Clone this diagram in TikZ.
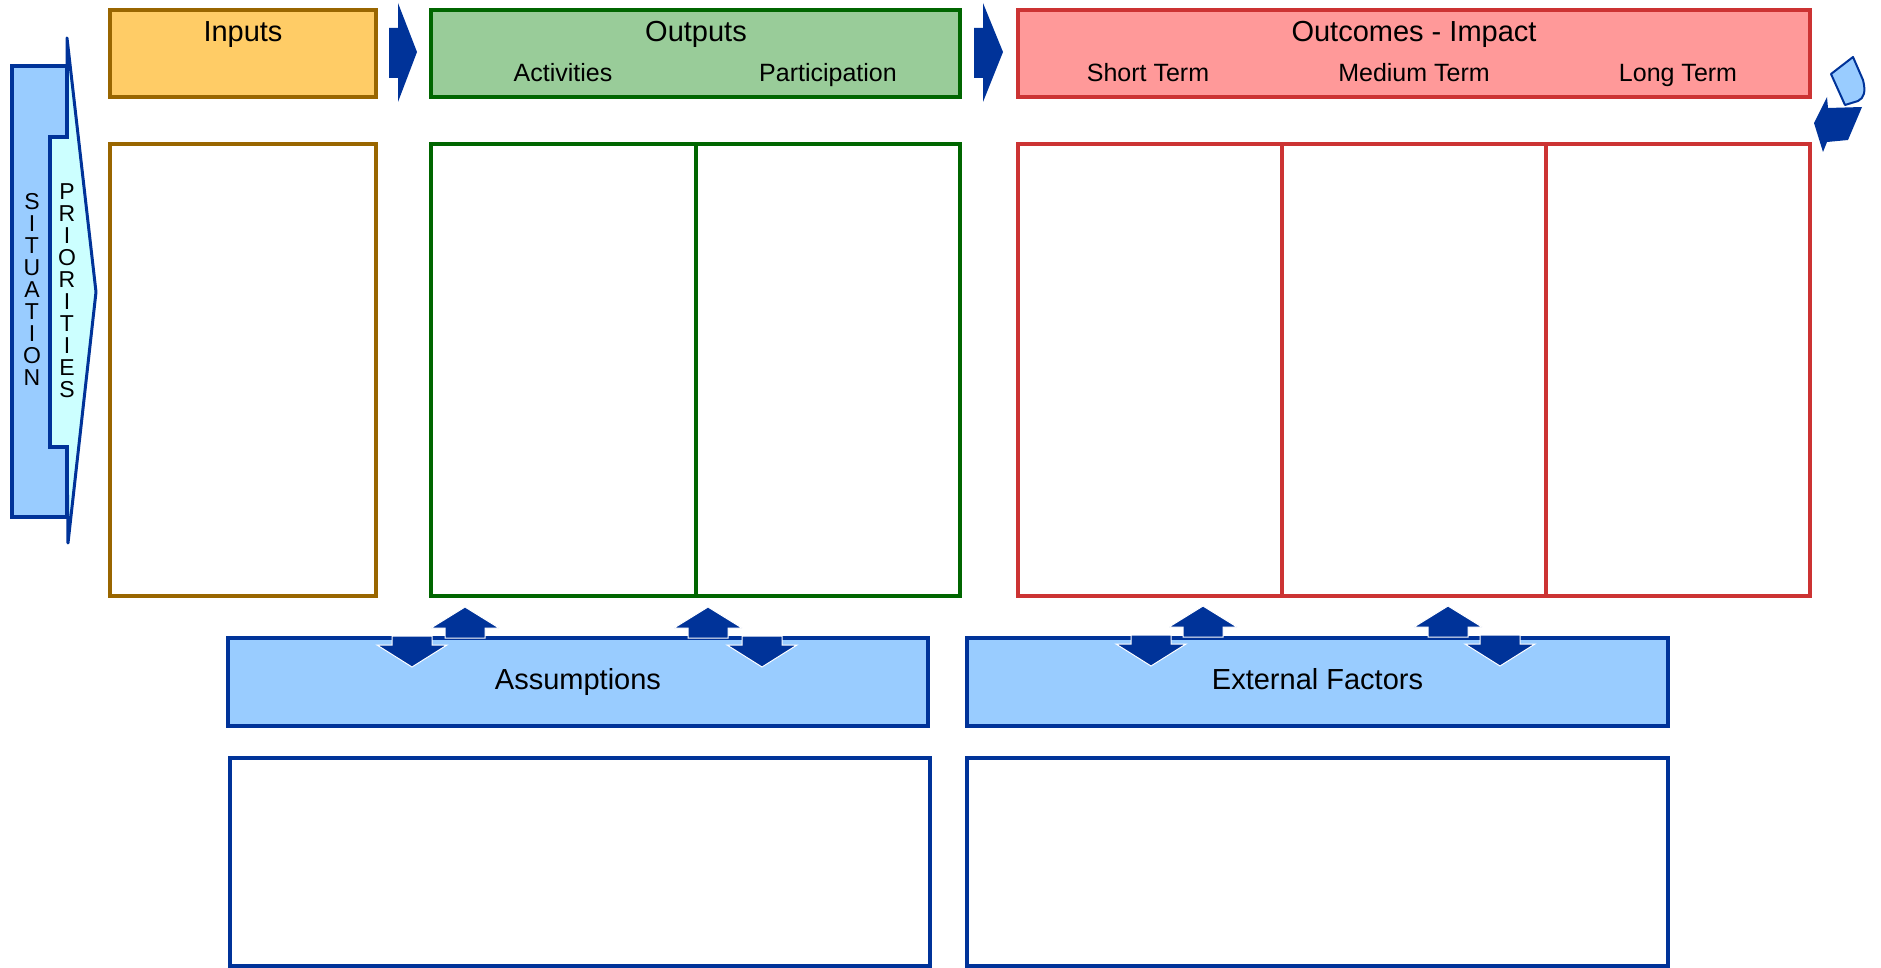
\documentclass[tikz,border=0pt]{standalone}
\usepackage{fontspec}
\setmainfont{Liberation Sans}
\usepackage{tikz}
\usetikzlibrary{positioning, calc}
\usepackage{xcolor}

\definecolor{inbrown}{HTML}{996600}
\definecolor{inyellow}{HTML}{FFCC66}
\definecolor{outgreen}{HTML}{006600}
\definecolor{outfill}{HTML}{99CC99}
\definecolor{ocred}{HTML}{CC3333}
\definecolor{ocfill}{HTML}{FF9999}
\definecolor{navy}{HTML}{003399}
\definecolor{skyfill}{HTML}{99CCFF}
\definecolor{prifill}{HTML}{CCFFFF}

% block arrows under the top row (tip x, tip y)
\newcommand{\blockup}[2]{\fill[navy, draw=white, line width=0.5pt] (#1,#2) -- ++(34,21) -- ++(-14,0) -- ++(0,10) -- ++(-40,0) -- ++(0,-10) -- ++(-14,0) -- cycle;}
\newcommand{\blockdown}[2]{\fill[navy, draw=white, line width=0.5pt] (#1,#2) -- ++(35,-22) -- ++(-15,0) -- ++(0,-9) -- ++(-40,0) -- ++(0,9) -- ++(-15,0) -- cycle;}

\begin{document}
\begin{tikzpicture}[
    x=0.5pt, y=-0.5pt,
    hdr/.style={rectangle, line width=2pt, minimum height=43.5pt, inner sep=0pt},
    col/.style={rectangle, draw, line width=1.6pt, fill=white, minimum width=132pt, minimum height=226pt, inner sep=0pt},
    bluebar/.style={rectangle, draw=navy, fill=skyfill, line width=2pt, minimum width=350pt, minimum height=44pt, inner sep=0pt, text height=10pt, text depth=3pt, font=\fontsize{14.5}{17}\selectfont},
    bluebox/.style={rectangle, draw=navy, fill=white, line width=1.6pt, minimum width=350pt, minimum height=104pt, inner sep=0pt},
    title/.style={anchor=base, inner sep=0pt, font=\fontsize{14.5}{17}\selectfont},
    sub/.style={anchor=base, inner sep=0pt, font=\fontsize{12.5}{15}\selectfont},
    vert/.style={align=center, inner sep=0pt, font=\fontsize{11.5}{11}\selectfont},
    hdrarrow/.style={fill=navy}
]
    \useasboundingbox (0,0) rectangle (1881,968);

    % header row
    \node (inp) [hdr, draw=inbrown, fill=inyellow, minimum width=133pt] at (243,53.5) {};
    \node (outp) [hdr, draw=outgreen, fill=outfill, minimum width=264.5pt] at (695.5,53.5) {};
    \node (outc) [hdr, draw=ocred, fill=ocfill, minimum width=396pt] at (1414,53.5) {};

    \node (inp_t) [title] at (243,42) {Inputs};
    \node (outp_t) [title] at (696,42) {Outputs};
    \node (act_t) [sub] at (563,82) {Activities};
    \node (part_t) [sub] at (828,82) {Participation};
    \node (outc_t) [title] at (1414,42) {Outcomes - Impact};
    \node (st_t) [sub] at (1148,82) {Short Term};
    \node (mt_t) [sub] at (1414,82) {Medium Term};
    \node (lt_t) [sub] at (1678,82) {Long Term};

    \fill[hdrarrow] (389,28) -- (398,28) -- (398,3) -- (417,52) -- (398,102) -- (398,78) -- (389,78) -- cycle;
    \fill[hdrarrow] (974,28) -- (983,28) -- (983,3) -- (1003,52) -- (983,102) -- (983,78) -- (974,78) -- cycle;

    % columns
    \node (inp_body) [col, draw=inbrown, minimum width=133pt] at (243,370) {};
    \node (act_body) [col, draw=outgreen, minimum width=132.5pt] at (563.5,370) {};
    \node (part_body) [col, draw=outgreen] at (828,370) {};
    \node (st_body) [col, draw=ocred] at (1150,370) {};
    \node (mt_body) [col, draw=ocred] at (1414,370) {};
    \node (lt_body) [col, draw=ocred] at (1678,370) {};

    % situation / priorities
    \draw[navy, fill=prifill, line width=1.5pt, line join=round] (67,38) -- (96,292) -- (68,543) -- (67,447) -- (50,447) -- (50,137) -- (67,137) -- cycle;
    \draw[navy, fill=skyfill, line width=2pt] (12,66) -- (67,66) -- (67,137) -- (50,137) -- (50,447) -- (67,447) -- (67,517) -- (12,517) -- cycle;
    \node (sit) [vert] at (32,289) {S\\I\\T\\U\\A\\T\\I\\O\\N};
    \node (pri) [vert] at (67,291) {P\\R\\I\\O\\R\\I\\T\\I\\E\\S};

    % recycle icon
    \draw[navy, fill=skyfill, line width=1pt, line join=round] (1831,74) -- (1853,57) -- (1863,80) .. controls (1866,92) and (1864,98) .. (1858,101) -- (1845,105) -- cycle;
    \fill[navy] (1814,123) -- (1827,97) -- (1828,108) -- (1862,107) -- (1848,140) -- (1827,142) -- (1823,152) -- cycle;

    % assumptions and external factors
    \node (assum) [bluebar] at (578,682) {Assumptions};
    \node (extf) [bluebar, minimum width=350.5pt] at (1317.5,682) {External Factors};
    \node (assum_body) [bluebox] at (580,862) {};
    \node (extf_body) [bluebox, minimum width=350.5pt] at (1317.5,862) {};

    \blockdown{412}{667} \blockup{465}{607}
    \blockup{708}{607} \blockdown{762}{667}
    \blockdown{1151}{666} \blockup{1203}{606}
    \blockup{1448}{606} \blockdown{1500}{666}
\end{tikzpicture}
\end{document}
